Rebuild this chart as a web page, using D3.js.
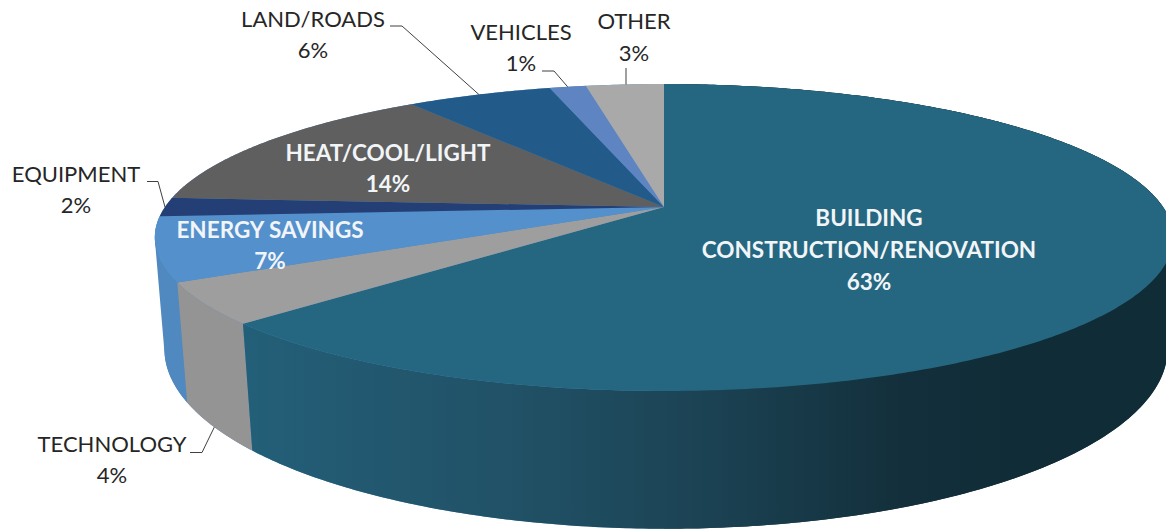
<!DOCTYPE html>
<html><head><meta charset="utf-8">
<script src="https://cdn.jsdelivr.net/npm/d3@7/dist/d3.min.js"></script>
<style>html,body{margin:0;padding:0;background:#fff;overflow:hidden}svg{display:block}
text{font-family:Lato,"Open Sans",sans-serif;text-anchor:middle}</style>
</head><body><svg id="c" width="1166" height="529"></svg>
<script>
const categories = ["BUILDING CONSTRUCTION/RENOVATION","TECHNOLOGY","ENERGY SAVINGS","EQUIPMENT","HEAT/COOL/LIGHT","LAND/ROADS","VEHICLES","OTHER"];
const values = [63,4.3,6.7,2,14,5.6,1.4,3];
const percentLabels = ["63%","4%","7%","2%","14%","6%","1%","3%"];
const topColors = ["#256781","#9e9e9e","#5490cb","#243f75","#5f5f5f","#225b8a","#5f84c2","#a9a9a9"];
const sideColors = ["url(#wall)","#949494","#4f89c0","#213a6b","#555555","#1f5480","#5679b4","#9b9b9b"];

const topFace = {x0:664,y0:207,A:499,B:147.4,k:0.1987};
const botFace = {x0:666,y0:314,A:492,B:173,k:0.1944};
function rim(f,a){const u=Math.sin(a),v=-Math.cos(a),w=1-f.k*v;return [f.x0+f.A*u/w,f.y0+f.B*v/w];}
const pie = d3.pie().sort(null).value(d=>d);
const arcs = pie(values);
const line = d3.line();
const svg = d3.select("#c");
const defs = svg.append("defs");
const grad = defs.append("linearGradient").attr("id","wall")
  .attr("gradientUnits","userSpaceOnUse").attr("x1",245).attr("x2",1020).attr("y1",0).attr("y2",0);
[[0,"#235f78"],[0.35,"#215166"],[0.6,"#1b4253"],[0.85,"#132f3b"],[1,"#102c37"]]
  .forEach(s=>grad.append("stop").attr("offset",s[0]).attr("stop-color",s[1]));

function steps(d){const n=Math.max(8,Math.ceil((d.endAngle-d.startAngle)/0.01));
  return d3.range(n+1).map(i=>d.startAngle+(d.endAngle-d.startAngle)*i/n);}
function wallPath(d){const t=steps(d);let p="";
  for(let i=0;i<t.length-1;i++){
    p+=line([rim(topFace,t[i]),rim(topFace,t[i+1]),rim(botFace,t[i+1]),rim(botFace,t[i])])+"Z";}
  return p;}

// silhouette of the extruded body: hull of both rims, split left/right of the first radius
const ring = d3.range(0,2*Math.PI,0.01);
const hull = d3.polygonHull(ring.flatMap(a=>[rim(topFace,a),rim(botFace,a)]));
defs.append("clipPath").attr("id","cl").append("rect").attr("width",664).attr("height",529);
defs.append("clipPath").attr("id","cr").append("rect").attr("x",664).attr("width",502).attr("height",529);
svg.append("path").attr("d",line(hull)+"Z").attr("fill",sideColors[2]).attr("clip-path","url(#cl)");
svg.append("path").attr("d",line(hull)+"Z").attr("fill",sideColors[0]).attr("clip-path","url(#cr)");

svg.append("g").selectAll("path").data(arcs.slice(0,3).reverse()).join("path")
  .attr("d",wallPath).attr("fill",d=>sideColors[d.index]);
svg.append("g").selectAll("path").data(arcs).join("path")
  .attr("d",d=>line([[topFace.x0,topFace.y0],...steps(d).map(a=>rim(topFace,a))])+"Z")
  .attr("fill",d=>topColors[d.index]);

const mid=d=>(d.startAngle+d.endAngle)/2;
const outer=[
  {i:3,elbow:[[147,181.5],[158,181.5]],face:topFace,name:"EQUIPMENT",x:76,y:[182,213]},
  {i:1,elbow:[[190,452.5],[202,452.5]],face:botFace,name:"TECHNOLOGY",x:112,y:[452,483]},
  {i:5,elbow:[[390,26],[402,26]],face:topFace,name:"LAND/ROADS",x:313,y:[27,58]},
  {i:6,elbow:[[542,71],[554,71]],face:topFace,name:"VEHICLES",x:521,y:[40,71]},
  {i:7,elbow:[[626,68]],face:topFace,name:"OTHER",x:634,y:[29,61]}
];
const g=svg.append("g");
outer.forEach(o=>{
  const end=rim(o.face,mid(arcs[o.i]));
  const pts=[...o.elbow,o.i===7?[o.elbow[0][0],end[1]]:end];
  g.append("path").attr("d",line(pts)).attr("fill","none").attr("stroke","#404040").attr("stroke-width",1);
  [o.name,percentLabels[o.i]].forEach((t,j)=>g.append("text").attr("x",o.x).attr("y",o.y[j]).attr("font-size",22).attr("fill","#262626").text(t));
});
const inner=[
  {i:0,lines:["BUILDING","CONSTRUCTION/RENOVATION"],x:869,y:[226,258,290]},
  {i:4,lines:["HEAT/COOL/LIGHT"],x:388,y:[161,192]},
  {i:2,lines:["ENERGY SAVINGS"],x:270,y:[238,269]}
];
inner.forEach(o=>[...o.lines,percentLabels[o.i]].forEach((t,j)=>g.append("text").attr("x",o.x).attr("y",o.y[j])
  .attr("font-size",22.5).attr("font-weight",700).attr("fill","#f2f5f7").text(t)));
</script></body></html>
